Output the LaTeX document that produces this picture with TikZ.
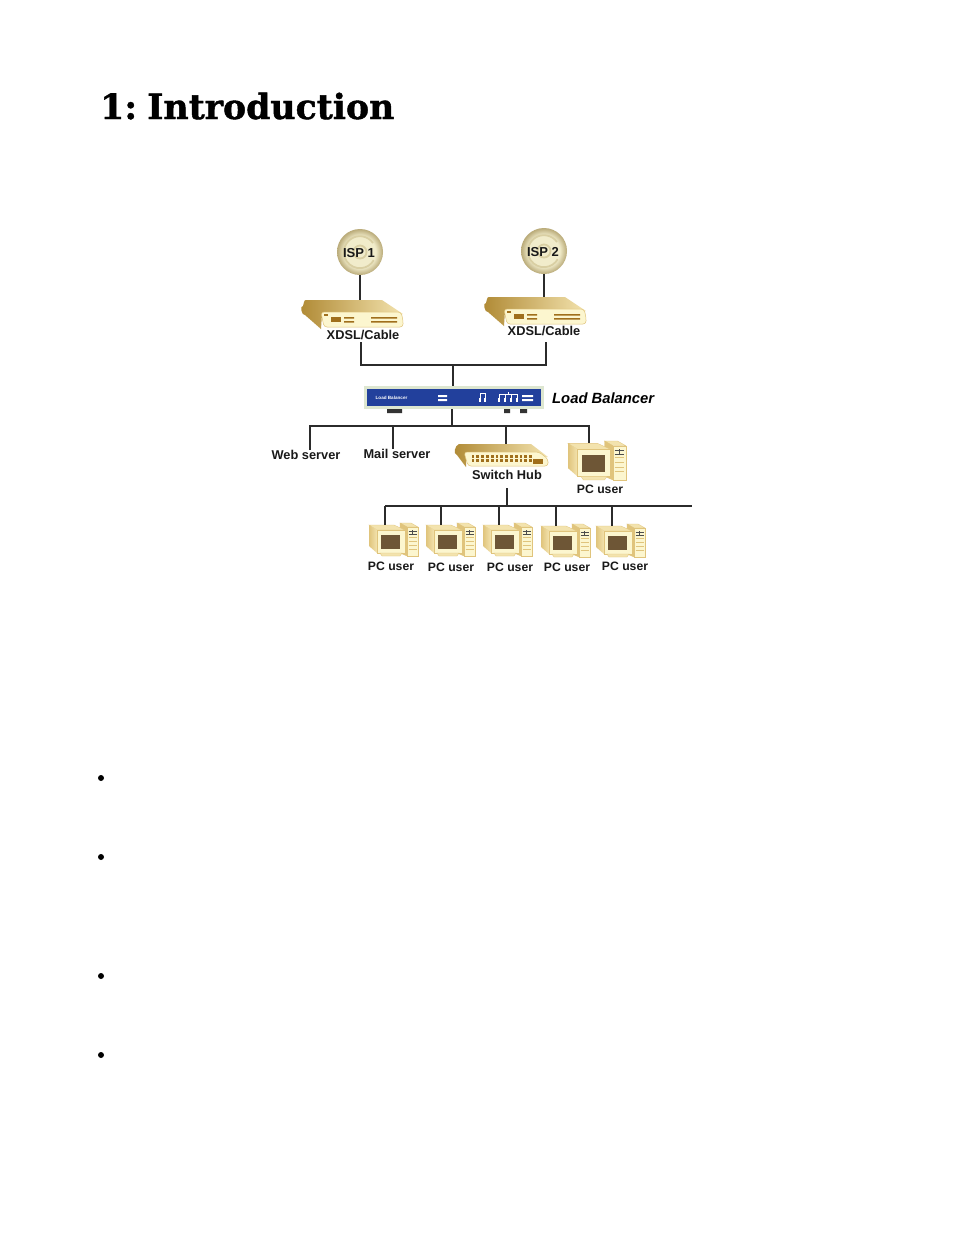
\documentclass[tikz,border=0pt]{standalone}
\usepackage{fontspec}
\setmainfont{Liberation Sans}
\newfontfamily\titlefont[BoldFont={DejaVu Serif Bold},BoldFeatures={FakeBold=1.2}]{DejaVu Serif}
\usetikzlibrary{positioning}
\definecolor{golddark}{HTML}{B08A35}
\definecolor{goldmid}{HTML}{E0C47C}
\definecolor{goldlight}{HTML}{F3E3AE}
\definecolor{goldpale}{HTML}{FCF6CF}
\definecolor{screenbrown}{HTML}{6E5636}
\definecolor{portbrown}{HTML}{A06F1C}
\definecolor{panelblue}{HTML}{22409C}
\definecolor{panelrim}{HTML}{DDE6D0}
\definecolor{wirecol}{HTML}{2B2B2B}
\definecolor{discrim}{HTML}{B9AA78}
\definecolor{disccore}{HTML}{F1ECCB}
\definecolor{discmark}{HTML}{D9CFA3}
\pgfdeclareradialshading{ispglow}{\pgfpoint{0bp}{0bp}}{color(0bp)=(disccore); color(17bp)=(disccore); color(25bp)=(discrim); color(100bp)=(discrim)}
\tikzset {
    x=1pt, y=-1pt,
    wire/.style={draw=wirecol, line width=1.2pt},
    lbl/.style={inner sep=0pt, font=\bfseries\fontsize{12.8}{14}\selectfont, text=black!90},
    pclbl/.style={lbl, font=\bfseries\fontsize{12.2}{14}\selectfont},
    ispdisc/.style={circle, minimum size=46pt, inner sep=0pt, shading=ispglow},
    ispname/.style={inner sep=0pt, font=\bfseries\fontsize{13}{13}\selectfont, text=black!90},
    ispmark/.style={draw=discmark, line width=1.8pt},
    bullet/.style={circle, fill=black, minimum size=6pt, inner sep=0pt},
    modem/.pic={
        \coordinate (-top) at (50,0);
        \path[left color=golddark, right color=goldlight] (4,0) -- (80,0) -- (101,14) -- (20,14) -- (19,29) -- (3,15) to[out=200,in=160] (1,6) to[out=60,in=180] (4,0);
        \path[fill=goldpale, draw=goldmid, line width=.5pt, rounded corners=3pt] (19,12) -- (99,12) -- (101,20) -- (101,27) -- (22,27) -- cycle;
        \fill[portbrown] (22,14) rectangle (26,16);
        \fill[portbrown] (29,17) rectangle (39,22);
        \fill[portbrown] (42,17) rectangle (52,18.5) (42,21) rectangle (52,22.5);
        \fill[portbrown] (69,17) rectangle (95,18.5) (69,21) rectangle (95,22.5);
    },
    switchhub/.pic={
        \coordinate (-top) at (50,0);
        \path[left color=golddark, right color=goldlight] (3,0) -- (75,0) -- (92,13) -- (10,13) -- (10,23) -- (1,11) to[out=170,in=200] (3,0);
        \path[fill=goldpale, draw=goldmid, line width=.5pt, rounded corners=3pt] (8,8) -- (83,8) -- (92,15) -- (92,22) -- (12,22) -- cycle;
        \foreach \px in {0,...,12} {
            \fill[portbrown] (15.5+\px*4.8,10.5) rectangle ++(2.8,3);
            \fill[portbrown] (15.5+\px*4.8,15) rectangle ++(2.8,3);
        }
        \fill[portbrown] (77,15) rectangle (87,20);
    },
    pcuser/.pic={
        \coordinate (-top) at (16,2);
        % tower
        \path[fill=goldlight, draw=goldmid, line width=.3pt] (31,0) -- (42,0) -- (49,4) -- (38,4) -- cycle;
        \path[fill=goldmid, draw=goldmid, line width=.3pt] (31,0) -- (38,4) -- (38,33) -- (31,30) -- cycle;
        \path[fill=goldpale, draw=goldmid, line width=.3pt] (38,4) rectangle (49,33);
        \draw[black!70, line width=.6pt] (39.5,8) -- (47.5,8) (39.5,11) -- (47.5,11) (43.5,7) -- (43.5,12);
        \draw[goldmid, line width=.4pt] (39.5,14) -- (47.5,14) (39.5,18) -- (47.5,18) (39.5,22) -- (47.5,22) (39.5,26) -- (47.5,26);
        % monitor
        \path[fill=goldlight, draw=goldmid, line width=.3pt] (0,2) -- (25,2) -- (36,7) -- (8,7) -- cycle;
        \path[left color=goldmid, right color=goldlight] (0,2) -- (8,7) -- (8,30) -- (0,23) -- cycle;
        \path[fill=goldpale, draw=goldmid, line width=.3pt] (8,7) rectangle (36,30);
        \path[fill=goldlight, draw=goldmid, line width=.3pt] (11,30) -- (33,30) -- (31,33) -- (13,33) -- cycle;
        \fill[screenbrown] (12,12) rectangle (31,26);
    },
    loadpanel/.style={rectangle, draw=panelrim, line width=3pt, fill=panelblue, minimum width=177pt, minimum height=20pt, inner sep=0pt}
}

\begin{document}
\begin{tikzpicture}
    \useasboundingbox[fill=white] (0,0) rectangle (954,1235);

    % heading
    \node[anchor=base west, inner sep=0pt, font=\titlefont\bfseries\fontsize{34.7}{36}\selectfont] (heading) at (100,119) {1:\kern-2pt\ Introduction};

    % isp
    \node[ispdisc] (isp1) at (360,252) {};
    \node[ispdisc] (isp2) at (544,251) {};
    \foreach \ispname in {isp1, isp2} {
        \draw[ispmark] (\ispname) ++(13,-9) arc[start angle=35, end angle=330, radius=16pt];
        \draw[ispmark] (\ispname) circle[radius=6.5pt];
    }
    \node[ispname] (ispname1) at (359,253) {ISP 1};
    \node[ispname] (ispname2) at (543,252) {ISP 2};

    % modems
    \pic (modem1) at (302,300) {modem};
    \pic (modem2) at (485,297) {modem};
    \node[lbl] (xdsl1) at (363,335) {XDSL/Cable};
    \node[lbl] (xdsl2) at (544,331) {XDSL/Cable};
    \draw[wire] (isp1.south) -- (isp1.south |- modem1-top);
    \draw[wire] (isp2.south) -- (isp2.south |- modem2-top);

    % load balancer
    \fill[black!80] (387,409) rectangle (402,413) (504,409) rectangle (510,413) (520,409) rectangle (527,413);
    \node[loadpanel] (balancer) at (454,397.5) {};
    \node[inner sep=0pt, text=white, font=\bfseries\fontsize{4.6}{5}\selectfont] (paneltext) at (391.5,398) {Load Balancer};
    \fill[white] (438,395) rectangle (447,397) (438,399) rectangle (447,401);
    \foreach \px in {479,484} \fill[white] (\px,398) rectangle ++(2,4);
    \draw[white, line width=.8pt] (480,398) -- (480,393) -- (485,393) -- (485,398);
    \foreach \px in {498,504,510,516} \fill[white] (\px,398) rectangle ++(2,4);
    \draw[white, line width=.8pt] (499,398) -- (499,394) -- (517,394) -- (517,398) (505,394) -- (505,398) (511,394) -- (511,398) (508,394) -- (508,392);
    \fill[white] (522,395) rectangle (533,397) (522,399) rectangle (533,401);
    \node[inner sep=0pt, anchor=west, font=\bfseries\itshape\fontsize{14.8}{15}\selectfont] (balancername) at (552,398) {Load Balancer};

    \coordinate (stub1) at (361,342);
    \coordinate (stub2) at (546,342);
    \coordinate (jmodem1) at (361,365);
    \coordinate (jmodem2) at (546,365);
    \coordinate (jtop) at (453,365);
    \draw[wire] (stub1) -- (jmodem1) -- (jmodem2) -- (stub2);
    \draw[wire] (jtop) -- (jtop |- balancer.north);

    % first row
    \node[lbl] (web) at (306,455) {Web server};
    \node[lbl] (mail) at (397,454) {Mail server};
    \pic (hub) at (456,444) {switchhub};
    \node[lbl] (hublbl) at (507,475) {Switch Hub};
    \pic[scale=1.18] (pctop) at (568,441) {pcuser};
    \node[pclbl] (pctoplbl) at (600,489) {PC user};

    \coordinate (jweb) at (310,426);
    \coordinate (jmail) at (393,426);
    \coordinate (jout) at (452,426);
    \coordinate (jhub) at (506,426);
    \coordinate (jpc) at (589,426);
    \draw[wire] (jout |- balancer.south) -- (jout);
    \draw[wire] (web.north -| jweb) -- (jweb) -- (jpc) -- (jpc |- pctop-top);
    \draw[wire] (jmail) -- (jmail |- mail.north);
    \draw[wire] (jhub) -- (jhub |- hub-top);

    % second row
    \pic (pc1) at (369,523) {pcuser};
    \pic (pc2) at (426,523) {pcuser};
    \pic (pc3) at (483,523) {pcuser};
    \pic (pc4) at (541,524) {pcuser};
    \pic (pc5) at (596,524) {pcuser};
    \node[pclbl] (pclbl1) at (391,566) {PC user};
    \node[pclbl] (pclbl2) at (451,567) {PC user};
    \node[pclbl] (pclbl3) at (510,567) {PC user};
    \node[pclbl] (pclbl4) at (567,567) {PC user};
    \node[pclbl] (pclbl5) at (625,566) {PC user};

    \coordinate (hubstem) at (507,488);
    \coordinate (jbus) at (507,506);
    \coordinate (busstart) at (385,506);
    \coordinate (busend) at (692,506);
    \draw[wire] (hubstem) -- (jbus);
    \draw[wire] (busstart) -- (busend);
    \draw[wire] (busstart) -- (busstart |- pc1-top);
    \foreach \dropx/\pcname in {441/pc2, 499/pc3, 556/pc4, 612/pc5} {
        \coordinate (drop) at (\dropx,506);
        \draw[wire] (drop) -- (drop |- \pcname-top);
    }

    % bullets
    \node[bullet] (dot1) at (101,778) {};
    \node[bullet] (dot2) at (101,857) {};
    \node[bullet] (dot3) at (101,976) {};
    \node[bullet] (dot4) at (101,1055) {};
\end{tikzpicture}
\end{document}
